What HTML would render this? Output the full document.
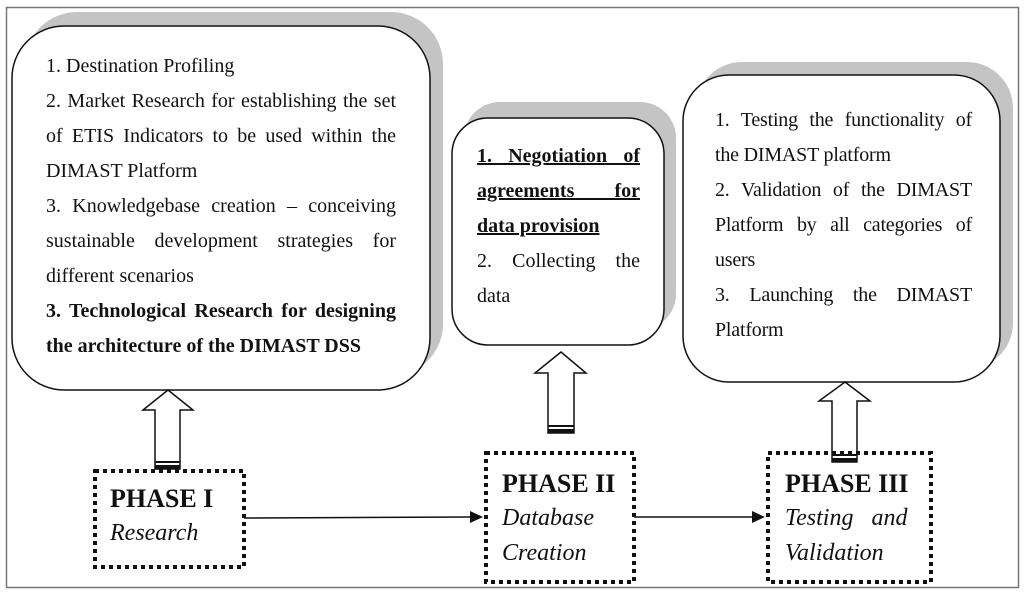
<!DOCTYPE html>
<html><head><meta charset="utf-8"><style>
html,body{margin:0;padding:0;background:#fff;}
#c{position:relative;width:1024px;height:597px;overflow:hidden;font-family:"Liberation Serif","Times New Roman",serif;color:#111;}
svg{position:absolute;left:0;top:0;}
.t{position:absolute;font-size:20px;line-height:35px;}
.t p{margin:0;text-align:justify;text-align-last:left;}
.ph{position:absolute;white-space:nowrap;}
.ph b,.ph i{display:block;height:35px;line-height:35px;}
.ph b{font-size:26px;}
.ph i{font-size:24px;}
</style></head><body><div id="c">
<svg width="1024" height="597" viewBox="0 0 1024 597">
<rect x="6.5" y="7.5" width="1012" height="580" fill="none" stroke="#777" stroke-width="1.5"/>
<rect x="25" y="12" width="418" height="364" rx="52" fill="#c4c4c4"/>
<rect x="464" y="102" width="212" height="228" rx="36" fill="#c4c4c4"/>
<rect x="696" y="62" width="317" height="307" rx="46" fill="#c4c4c4"/>
<rect x="12" y="26" width="418" height="364" rx="52" fill="#fff" stroke="#111" stroke-width="1.5"/>
<rect x="452" y="118" width="212" height="227" rx="36" fill="#fff" stroke="#111" stroke-width="1.5"/>
<rect x="683" y="75" width="317" height="307" rx="46" fill="#fff" stroke="#111" stroke-width="1.5"/>
<g fill="#fff" stroke="#111" stroke-width="1.5">
<polygon points="168,390 193,410 180,410 180,469 155,469 155,410 143,410"/>
<polygon points="561,352 586,373 574,373 574,433 548,433 548,373 535,373"/>
<polygon points="845,382 870,401 857,401 857,462 832,462 832,401 819,401"/>
</g>
<g fill="#111">
<rect x="155" y="461" width="25" height="2"/><rect x="155" y="465" width="25" height="4"/>
<rect x="548" y="425" width="26" height="2"/><rect x="548" y="429" width="26" height="4"/>
<rect x="832" y="454" width="25" height="2"/><rect x="832" y="458" width="25" height="4"/>
</g>
<g fill="none" stroke="#111" stroke-width="4" stroke-dasharray="4 4">
<rect x="95" y="471" width="149" height="96"/>
<rect x="486" y="453" width="148" height="129"/>
<rect x="768" y="453" width="163" height="129"/>
</g>
<g stroke="#111" stroke-width="1.5">
<line x1="244" y1="518" x2="472" y2="517"/>
<line x1="634" y1="517" x2="755" y2="517"/>
</g>
<polygon points="483,517 470,511 470,523" fill="#111"/>
<polygon points="765,517 752,511 752,523" fill="#111"/>
</svg>
<div class="t" style="left:46px;top:49px;width:350px;">
<p>1. Destination Profiling</p>
<p>2. Market Research for establishing the set of ETIS Indicators to be used within the DIMAST Platform</p>
<p>3. Knowledgebase creation – conceiving sustainable development strategies for different scenarios</p>
<p><b>3. Technological Research for designing the architecture of the DIMAST DSS</b></p>
</div>
<div class="t" style="left:477px;top:139px;width:163px;">
<p><b><u>1. Negotiation of agreements for data provision</u></b></p>
<p>2. Collecting the data</p>
</div>
<div class="t" style="left:715px;top:103px;width:257px;letter-spacing:-0.2px;">
<p>1. Testing the functionality of the DIMAST platform</p>
<p>2. Validation of the DIMAST Platform by all categories of users</p>
<p>3. Launching the DIMAST Platform</p>
</div>
<div class="ph" style="left:110px;top:481px;"><b>PHASE I</b><i>Research</i></div>
<div class="ph" style="left:502px;top:466px;"><b>PHASE II</b><i>Database</i><i>Creation</i></div>
<div class="ph" style="left:785px;top:466px;"><b>PHASE III</b><i style="word-spacing:12px;">Testing and</i><i>Validation</i></div>
</div></body></html>
